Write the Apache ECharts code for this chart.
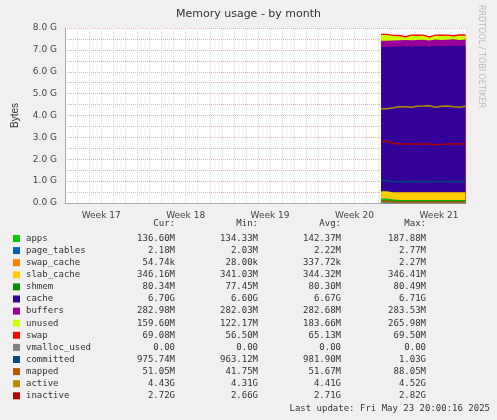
<!DOCTYPE html><html><head><meta charset="utf-8"><script src="https://cdn.jsdelivr.net/npm/echarts@6/dist/echarts.min.js"></script></head><body style="margin:0;background:#F0F0F0"><div id="c" style="width:497px;height:420px"></div><script>
const days=[23.2,23.7,24.2,24.7,25.2,25.7,26.2,26.7,27.2,27.7,28.2,28.7,29.2,29.7,30.2];
const apps=[0.188,0.15,0.14,0.14,0.14,0.14,0.14,0.14,0.14,0.14,0.14,0.14,0.14,0.14,0.137];
const page_tables=[0.0028,0.0022,0.0022,0.0022,0.0022,0.0022,0.0022,0.0022,0.0022,0.0022,0.0022,0.0022,0.0022,0.0022,0.0022];
const swap_cache=[0.0003,0.0001,0.0001,0.0001,0.0001,0.0001,0.0001,0.0001,0.0001,0.0001,0.0001,0.0001,0.0001,0.0001,0.00005];
const slab_cache=[0.341,0.344,0.344,0.344,0.345,0.344,0.345,0.344,0.345,0.344,0.345,0.346,0.345,0.346,0.346];
const cache=[6.6,6.65,6.67,6.68,6.67,6.68,6.69,6.66,6.70,6.68,6.69,6.71,6.68,6.70,6.70];
const buffers=[0.283,0.283,0.282,0.283,0.283,0.283,0.283,0.283,0.283,0.283,0.283,0.283,0.283,0.283,0.283];
const unused=[0.266,0.2,0.19,0.12,0.2,0.19,0.18,0.13,0.17,0.19,0.18,0.13,0.2,0.17,0.16];
const swap=[0.0565,0.06,0.065,0.065,0.066,0.066,0.066,0.066,0.066,0.067,0.068,0.068,0.069,0.069,0.069];
const shmem=[0.0775,0.08,0.08,0.08,0.08,0.08,0.08,0.081,0.081,0.081,0.081,0.081,0.081,0.081,0.0803];
const vmalloc_used=[0,0,0,0,0,0,0,0,0,0,0,0,0,0,0];
const committed=[1.03,0.975,0.97,0.975,0.98,0.98,0.975,0.98,0.98,0.985,0.98,0.98,0.975,0.98,0.976];
const mapped=[0.088,0.05,0.05,0.05,0.05,0.05,0.05,0.05,0.05,0.05,0.05,0.05,0.05,0.05,0.051];
const active=[4.31,4.35,4.40,4.40,4.38,4.42,4.43,4.45,4.38,4.42,4.43,4.40,4.38,4.42,4.43];
const inactive=[2.82,2.74,2.70,2.70,2.70,2.70,2.70,2.70,2.66,2.68,2.70,2.70,2.70,2.71,2.72];
const weekTicks=[0,7,14,21,28];
const rows=[['apps','#00CC00','136.60M','134.33M','142.37M','187.88M'],['page_tables','#0066B3','2.18M','2.03M','2.22M','2.77M'],['swap_cache','#FF8000','54.74k','28.00k','337.72k','2.27M'],['slab_cache','#FFCC00','346.16M','341.03M','344.32M','346.41M'],['shmem','#008F00','80.34M','77.45M','80.30M','80.49M'],['cache','#330099','6.70G','6.60G','6.67G','6.71G'],['buffers','#990099','282.98M','282.03M','282.68M','283.53M'],['unused','#CCFF00','159.60M','122.17M','183.66M','265.98M'],['swap','#FF0000','69.08M','56.50M','65.13M','69.50M'],['vmalloc_used','#808080','0.00','0.00','0.00','0.00'],['committed','#00487D','975.74M','963.12M','981.90M','1.03G'],['mapped','#B35A00','51.05M','41.75M','51.67M','88.05M'],['active','#B38F00','4.43G','4.31G','4.41G','4.52G'],['inactive','#B30000','2.72G','2.66G','2.71G','2.82G']];
const stackDefs=[['apps',apps,'#00CC00'],['page_tables',page_tables,'#0066B3'],['swap_cache',swap_cache,'#FF8000'],['slab_cache',slab_cache,'#FFCC00'],['cache',cache,'#330099'],['buffers',buffers,'#990099'],['unused',unused,'#CCFF00'],['swap',swap,'#FF0000']];
const z=a=>days.map((d,i)=>[d,a[i]]);
let cum=days.map(()=>0);const areas=[];
stackDefs.forEach((s,k)=>{cum=cum.map((v,i)=>v+s[1][i]);areas.push({name:s[0],type:'line',data:z(cum.slice()),symbol:'none',step:'end',z:2,zlevel:0,lineStyle:{width:0},areaStyle:{color:s[2],opacity:1},itemStyle:{color:s[2]}});});
areas.reverse();
const line=(n,a,c)=>({name:n,type:'line',data:z(a),symbol:'none',z:5,lineStyle:{width:1.5,color:c},step:'end'});
const series=areas.concat([line('shmem',shmem,'#008F00'),line('vmalloc_used',vmalloc_used,'#808080'),line('committed',committed,'#00487D'),line('mapped',mapped,'#B35A00'),line('active',active,'#B38F00'),line('inactive',inactive,'#B30000')]);
const g=[];const f='DejaVu Sans Mono';
[['Cur:',175],['Min:',258],['Avg:',341],['Max:',426]].forEach(h=>g.push({type:'text',x:h[1],y:219,style:{text:h[0],font:'9px '+f,fill:'#333',align:'right'}}));
rows.forEach((r,i)=>{const y=234+i*12.1;g.push({type:'rect',shape:{x:13,y:y+1,width:7,height:7},style:{fill:r[1]}});g.push({type:'text',x:26,y:y,style:{text:r[0],font:'9px '+f,fill:'#333'}});[175,258,341,426].forEach((x,j)=>g.push({type:'text',x:x,y:y,style:{text:r[j+2],font:'9px '+f,fill:'#333',align:'right'}}));});
g.push({type:'text',x:490,y:404,style:{text:'Last update: Fri May 23 20:00:16 2025',font:'9px '+f,fill:'#333',align:'right'}});
g.push({type:'text',x:485,y:5,rotation:-Math.PI/2,style:{text:'RRDTOOL / TOBI OETIKER',font:'8px DejaVu Sans',fill:'#bbb'}});
const c=echarts.init(document.getElementById('c'));
c.setOption({backgroundColor:'#F0F0F0',animation:false,
title:{text:'Memory usage - by month',left:'center',top:4,textStyle:{fontSize:11,fontWeight:'normal',color:'#333',fontFamily:'DejaVu Sans'}},
grid:{left:65,right:31,top:28,bottom:217,backgroundColor:'#fff',show:true,borderWidth:0},
xAxis:{type:'value',min:-3,max:30.24,interval:1,axisLine:{onZero:false,lineStyle:{color:'#aaa'}},axisTick:{show:false},
axisLabel:{customValues:weekTicks,formatter:v=>'Week '+(17+v/7),color:'#444',fontSize:9,fontFamily:'DejaVu Sans'},
splitLine:{lineStyle:{color:'#ddd',type:'dotted'}}},
yAxis:{type:'value',min:0,max:8,interval:0.5,name:'Bytes',nameLocation:'middle',nameGap:45,nameTextStyle:{fontSize:10,color:'#333'},axisLine:{onZero:false,lineStyle:{color:'#aaa'}},axisTick:{show:false},
axisLabel:{formatter:v=>Number.isInteger(v)?v.toFixed(1)+' G':'',color:'#444',fontSize:9,fontFamily:'DejaVu Sans'},
splitLine:{lineStyle:{color:'#e8b0b0',type:'dotted'}}},
series:series,graphic:g});
</script></body></html>
